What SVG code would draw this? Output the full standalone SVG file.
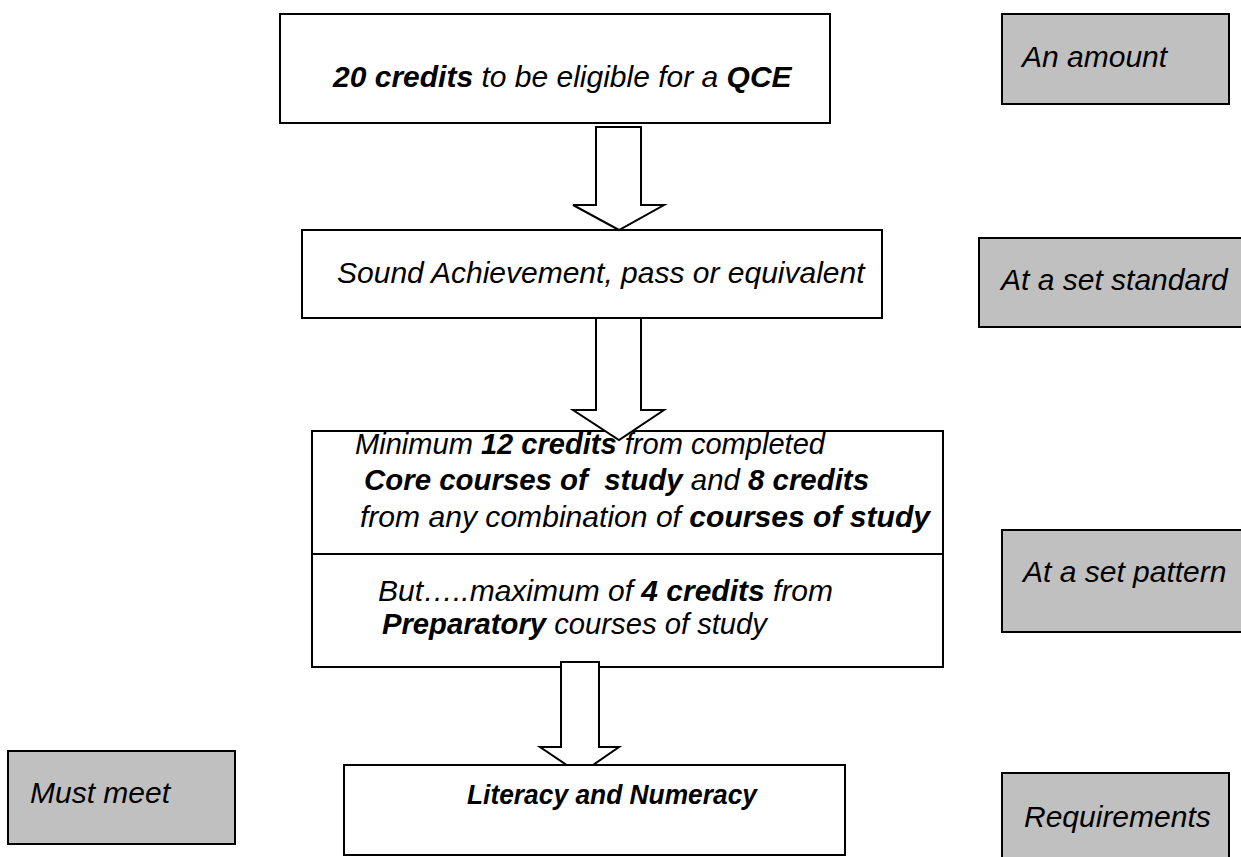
<svg xmlns="http://www.w3.org/2000/svg" width="1241" height="857" viewBox="0 0 1241 857">
<style>
.box{fill:#ffffff;stroke:#000;stroke-width:2}
.gbox{fill:#c0c0c0;stroke:#000;stroke-width:2}
.arrow{fill:#ffffff;stroke:#000;stroke-width:2;stroke-linejoin:miter}
text{font-family:"Liberation Sans",Arial,sans-serif;font-style:italic;fill:#000}
.t{font-size:30px}
.n{font-size:29px}
.b{font-weight:bold}
</style>
<rect width="1241" height="857" fill="#ffffff"/>
<g id="node-credits">
<rect class="box" x="280" y="14" width="550" height="109"/>
<text class="t" x="333" y="87"><tspan class="b">20 credits</tspan> to be eligible for a <tspan class="b">QCE</tspan></text>
</g>
<g id="node-sound">
<rect class="box" x="302" y="230" width="580" height="88"/>
<text class="t" x="337" y="283">Sound Achievement, pass or equivalent</text>
</g>
<g id="node-pattern">
<rect class="box" x="312" y="431" width="631" height="236"/>
<line x1="312" y1="554" x2="943" y2="554" stroke="#000" stroke-width="2"/>
<text class="n" x="355" y="454" textLength="470" lengthAdjust="spacingAndGlyphs">Minimum <tspan class="b">12 credits</tspan> from completed</text>
<text class="n" x="364" y="490" textLength="505" lengthAdjust="spacingAndGlyphs"><tspan class="b">Core courses of&#160; study</tspan> and <tspan class="b">8 credits</tspan></text>
<text class="n" x="360" y="527" textLength="570" lengthAdjust="spacingAndGlyphs">from any combination of <tspan class="b">courses of study</tspan></text>
<text class="n" x="378" y="601" textLength="455" lengthAdjust="spacingAndGlyphs">But…..maximum of <tspan class="b">4 credits</tspan> from</text>
<text class="n" x="382" y="634" textLength="385" lengthAdjust="spacingAndGlyphs"><tspan class="b">Preparatory</tspan> courses of study</text>
</g>
<g id="connectors">
<path class="arrow" d="M596,127 H641 V205 H664 L619,230 L573,205 H596 Z"/>
<path class="arrow" d="M596,318 H641 V410 H664 L619,440 L573,410 H596 Z"/>
<path class="arrow" d="M561,662 H599 V747 H619 L580,774 L540,747 H561 Z"/>
</g>
<g id="node-literacy">
<rect class="box" x="344" y="765" width="501" height="90"/>
<text class="t b" x="467" y="804" font-size="27" style="font-size:27px" textLength="290" lengthAdjust="spacingAndGlyphs">Literacy and Numeracy</text>
</g>
<g id="label-amount">
<rect class="gbox" x="1002" y="14" width="227" height="90"/>
<text class="t" x="1022" y="67">An amount</text>
</g>
<g id="label-standard">
<rect class="gbox" x="979" y="238" width="270" height="89"/>
<text class="t" x="1001" y="290">At a set standard</text>
</g>
<g id="label-pattern">
<rect class="gbox" x="1002" y="530" width="250" height="102"/>
<text class="t" x="1023" y="582">At a set pattern</text>
</g>
<g id="label-must">
<rect class="gbox" x="8" y="751" width="227" height="93"/>
<text class="t" x="30" y="803">Must meet</text>
</g>
<g id="label-requirements">
<rect class="gbox" x="1002" y="773" width="227" height="95"/>
<text class="t" x="1024" y="827">Requirements</text>
</g>
</svg>
